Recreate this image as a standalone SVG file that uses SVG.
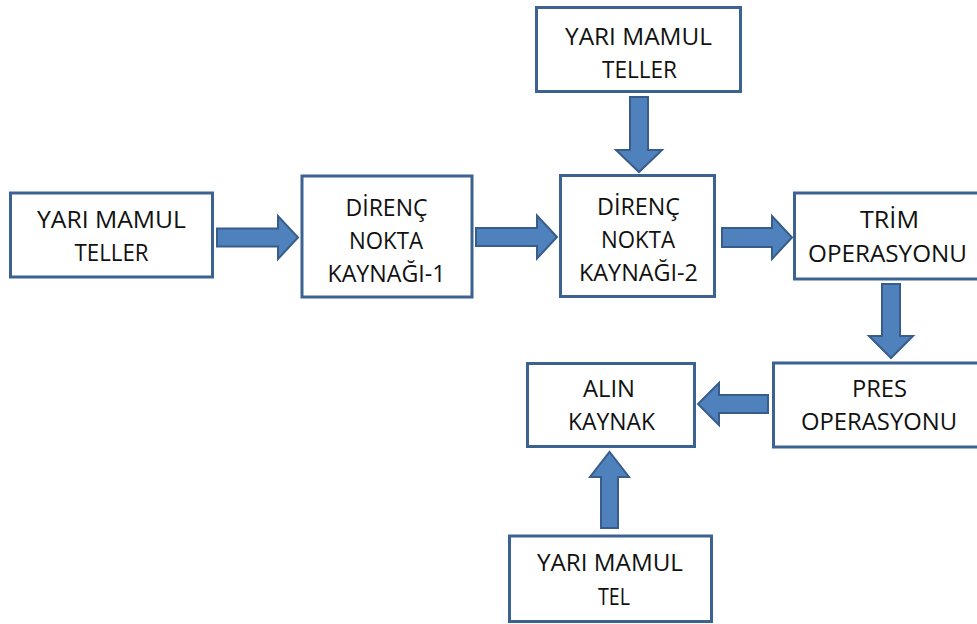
<svg xmlns="http://www.w3.org/2000/svg" width="977" height="624" viewBox="0 0 977 624">
  <style>
    .box { fill: #ffffff; stroke: #3b6290; stroke-width: 3; }
    .lbl { font-family: "Open Sans", "Liberation Sans", Arial, sans-serif; font-size: 23.5px; fill: #111111; text-anchor: middle; }
    .arrow { fill: #4f81bd; stroke: #385d8a; stroke-width: 2; stroke-linejoin: miter; }
  </style>
  <rect width="977" height="624" fill="#ffffff"/>

  <!-- flow arrows -->
  <g id="connectors">
    <!-- teller -> kaynak 1 -->
    <polygon class="arrow" points="217,228.5 278,228.5 278,216 298,237.5 278,259 278,246.5 217,246.5"/>
    <!-- kaynak 1 -> kaynak 2 -->
    <polygon class="arrow" points="476,228 537,228 537,215.5 557,237 537,258.5 537,246 476,246"/>
    <!-- top teller -> kaynak 2 -->
    <polygon class="arrow" points="630,97 648,97 648,150 662,150 639,172 616,150 630,150"/>
    <!-- kaynak 2 -> trim -->
    <polygon class="arrow" points="722,228 772,228 772,216 792,237.5 772,259 772,247 722,247"/>
    <!-- trim -> pres -->
    <polygon class="arrow" points="882,284 900,284 900,336 913,336 891,358 869,336 882,336"/>
    <!-- pres -> alin kaynak -->
    <polygon class="arrow" points="768,395 719,395 719,383 698,404 719,425 719,413 768,413"/>
    <!-- tel -> alin kaynak -->
    <polygon class="arrow" points="601,528 601,477 590,477 609.5,452 629,477 618,477 618,528"/>
  </g>

  <g id="n-teller-left">
    <rect class="box" x="10.5" y="193" width="202" height="84"/>
    <text class="lbl" x="111.5" y="227.5" textLength="149" lengthAdjust="spacingAndGlyphs">YARI MAMUL</text>
    <text class="lbl" x="111.5" y="260.5" textLength="74" lengthAdjust="spacingAndGlyphs">TELLER</text>
  </g>

  <g id="n-kaynak1">
    <rect class="box" x="302" y="176" width="170" height="121"/>
    <text class="lbl" x="386.5" y="215.5" textLength="82" lengthAdjust="spacingAndGlyphs">DİRENÇ</text>
    <text class="lbl" x="386" y="248.5" textLength="74" lengthAdjust="spacingAndGlyphs">NOKTA</text>
    <text class="lbl" x="386.5" y="281.5" textLength="118" lengthAdjust="spacingAndGlyphs">KAYNAĞI-1</text>
  </g>

  <g id="n-teller-top">
    <rect class="box" x="536.5" y="7.5" width="204" height="84"/>
    <text class="lbl" x="638.5" y="44.5" textLength="147" lengthAdjust="spacingAndGlyphs">YARI MAMUL</text>
    <text class="lbl" x="639.5" y="77.5" textLength="75" lengthAdjust="spacingAndGlyphs">TELLER</text>
  </g>

  <g id="n-kaynak2">
    <rect class="box" x="560.5" y="175.5" width="154" height="121"/>
    <text class="lbl" x="638.5" y="215" textLength="83" lengthAdjust="spacingAndGlyphs">DİRENÇ</text>
    <text class="lbl" x="638" y="248" textLength="74" lengthAdjust="spacingAndGlyphs">NOKTA</text>
    <text class="lbl" x="638.5" y="281" textLength="119" lengthAdjust="spacingAndGlyphs">KAYNAĞI-2</text>
  </g>

  <g id="n-trim">
    <rect class="box" x="794.5" y="193" width="200" height="86"/>
    <text class="lbl" x="889.5" y="227.5" textLength="59" lengthAdjust="spacingAndGlyphs">TRİM</text>
    <text class="lbl" x="887.5" y="261.5" textLength="159" lengthAdjust="spacingAndGlyphs">OPERASYONU</text>
  </g>

  <g id="n-pres">
    <rect class="box" x="773.5" y="363" width="220" height="84"/>
    <text class="lbl" x="879.5" y="397" textLength="55" lengthAdjust="spacingAndGlyphs">PRES</text>
    <text class="lbl" x="879" y="430" textLength="156" lengthAdjust="spacingAndGlyphs">OPERASYONU</text>
  </g>

  <g id="n-alin">
    <rect class="box" x="527.5" y="363.5" width="167" height="83"/>
    <text class="lbl" x="609" y="396.5" textLength="52" lengthAdjust="spacingAndGlyphs">ALIN</text>
    <text class="lbl" x="611.5" y="430" textLength="87" lengthAdjust="spacingAndGlyphs">KAYNAK</text>
  </g>

  <g id="n-tel">
    <rect class="box" x="509.5" y="536" width="202" height="85.5"/>
    <text class="lbl" x="610" y="571" textLength="146" lengthAdjust="spacingAndGlyphs">YARI MAMUL</text>
    <text class="lbl" x="614" y="605" textLength="32" lengthAdjust="spacingAndGlyphs">TEL</text>
  </g>
</svg>
